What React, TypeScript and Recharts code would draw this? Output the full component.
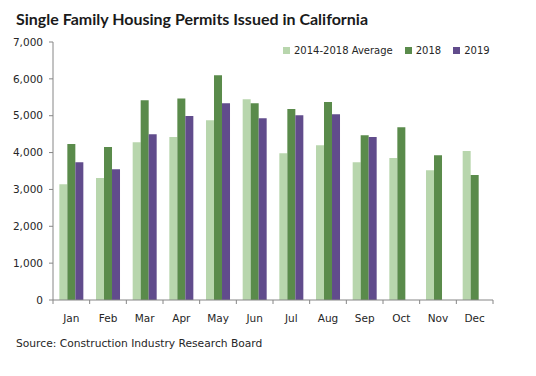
import { BarChart, Bar, XAxis, YAxis } from "recharts";

const months = ["Jan", "Feb", "Mar", "Apr", "May", "Jun", "Jul", "Aug", "Sep", "Oct", "Nov", "Dec"];
const avg2014to2018 = [3140, 3310, 4280, 4420, 4880, 5450, 3980, 4200, 3740, 3850, 3520, 4040];
const permits2018 = [4230, 4150, 5420, 5470, 6100, 5340, 5180, 5370, 4470, 4690, 3930, 3390];
const permits2019 = [3740, 3550, 4500, 4990, 5340, 4930, 5010, 5040, 4420, null, null, null];
const yTicks = [0, 1000, 2000, 3000, 4000, 5000, 6000, 7000];

const series = [
  { key: "avg", name: "2014-2018 Average", color: "#B8D6AD" },
  { key: "y2018", name: "2018", color: "#5A8B4B" },
  { key: "y2019", name: "2019", color: "#614C8C" },
];

const FONT = "'DejaVu Sans', sans-serif";
const AXIS = "#868686";

const data = months.map((m, i) => ({
  month: m,
  avg: avg2014to2018[i],
  y2018: permits2018[i],
  y2019: permits2019[i],
}));

// month label plus the little divider ticks between categories
function MonthTick(props: any) {
  const { x, y, payload, index, width, visibleTicksCount } = props;
  const half = (width || 440) / (visibleTicksCount || 12) / 2;
  return (
    <g>
      <line x1={x - half} x2={x - half} y1={y} y2={y + 4} stroke={AXIS} />
      {index === (visibleTicksCount || 12) - 1 && (
        <line x1={x + half} x2={x + half} y1={y} y2={y + 4} stroke={AXIS} />
      )}
      <text x={x} y={y + 22} textAnchor="middle" fontSize={10.5} fontFamily={FONT} fill="#262626">
        {payload.value}
      </text>
    </g>
  );
}

export default function App() {
  return (
    <div style={{ position: "absolute", left: 0, top: 0, width: 536, height: 376, background: "#fff" }}>
      <div
        style={{
          position: "absolute", left: 16, top: 9, fontFamily: "Lato, sans-serif", fontWeight: 700,
          fontSize: 16, color: "#1a1a1a", whiteSpace: "nowrap",
        }}
      >
        Single Family Housing Permits Issued in California
      </div>
      <div
        style={{
          position: "absolute", left: 283, top: 45, display: "flex", gap: 12,
          fontFamily: FONT, fontSize: 10, color: "#262626", whiteSpace: "nowrap",
        }}
      >
        {series.map((s) => (
          <div key={s.key} style={{ display: "flex", alignItems: "center", gap: 4 }}>
            <span style={{ width: 7, height: 7, background: s.color, display: "inline-block" }} />
            <span>{s.name}</span>
          </div>
        ))}
      </div>
      <BarChart
        width={536}
        height={376}
        data={data}
        margin={{ top: 42, right: 43, left: 0, bottom: 46 }}
        barCategoryGap="17.3%"
        barGap={0}
        style={{ position: "absolute", left: 0, top: 0 }}
      >
        <XAxis
          dataKey="month"
          axisLine={{ stroke: AXIS }}
          tickLine={false}
          tickSize={0}
          tickMargin={0}
          tick={<MonthTick />}
          interval={0}
          height={30}
        />
        <YAxis
          width={53}
          domain={[0, 7000]}
          ticks={yTicks}
          interval={0}
          axisLine={{ stroke: AXIS }}
          tickLine={{ stroke: AXIS }}
          tickSize={4}
          tickMargin={6}
          tickFormatter={(v: number) => v.toLocaleString("en-US")}
          tick={{ fontSize: 10.5, fontFamily: FONT, fill: "#262626" }}
        />
        {series.map((s) => (
          <Bar key={s.key} dataKey={s.key} name={s.name} fill={s.color} isAnimationActive={false} />
        ))}
      </BarChart>
      <div
        style={{
          position: "absolute", left: 16, top: 337, fontFamily: FONT, fontSize: 10.7,
          color: "#262626", whiteSpace: "nowrap",
        }}
      >
        Source: Construction Industry Research Board
      </div>
    </div>
  );
}
